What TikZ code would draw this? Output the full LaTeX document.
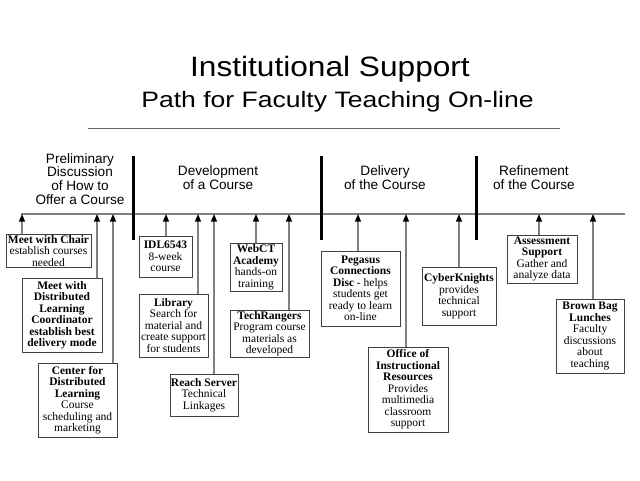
\documentclass[tikz,border=0pt]{standalone}
\usepackage{graphicx}
\usepackage{fontspec}
\setmainfont{Liberation Serif}
\newfontfamily\arialf{Liberation Sans}
\usetikzlibrary{arrows.meta}
\begin{document}
\begin{tikzpicture}[x=1pt,y=-1pt,
  box/.style={draw=black!75, line width=0.8pt, fill=white, inner sep=1pt, align=center,
    font=\fontsize{11.5}{11.5}\selectfont},
  conn/.style={draw=black!50, line width=1.2pt,
    -{Triangle[length=7.5pt,width=6pt,color=black]}},
  heading/.style={anchor=north, inner sep=0pt, align=center,
    font=\arialf\fontsize{13.6}{13.9}\selectfont},
  divider/.style={line width=3pt, black},
  rulestyle/.style={draw=black!60, line width=0.9pt},
  timeline/.style={draw=black!50, line width=1.3pt}]
\path[use as bounding box, fill=white] (0,0) rectangle (640,480);

% titles
\node[anchor=base, inner sep=0pt] (title) at (330,76.7)
  {\arialf\fontsize{28}{28}\selectfont\scalebox{1.13}[1]{Institutional Support}};
\node[anchor=base, inner sep=0pt] (subtitle) at (337.5,107.7)
  {\arialf\fontsize{22.3}{22.3}\selectfont\scalebox{1.19}[1]{Path for Faculty Teaching On-line}};
\draw[rulestyle] (88,128) -- (560,128);

% headings
\node[heading] (hpre) at (80,153) {Preliminary\\Discussion\\of How to\\Offer a Course};
\node[heading] (hdev) at (218,165.3) {Development\\of a Course};
\node[heading] (hdel) at (385,165.3) {Delivery\\of the Course};
\node[heading] (href) at (534,165.3) {Refinement\\of the Course};

% timeline and dividers
\coordinate (tl0) at (21,214);
\coordinate (tl1) at (625,214);
\draw[timeline] (tl0) -- (tl1);
\draw[divider] (133,156) -- (133,240);
\draw[divider] (321,156) -- (321,240);
\draw[divider] (476,156) -- (476,240);

% boxes
\node[box, minimum width=85pt, minimum height=32pt] (chair) at (48.5,251)
  {\textbf{Meet with Chair}\\establish courses\\needed};
\node[box, minimum width=80pt, minimum height=74pt] (dlc) at (62,315)
  {\textbf{Meet with}\\\textbf{Distributed}\\\textbf{Learning}\\\textbf{Coordinator}\\\textbf{establish best}\\\textbf{delivery mode}};
\node[box, minimum width=79pt, minimum height=74pt] (cdl) at (77.5,400)
  {\textbf{Center for}\\\textbf{Distributed}\\\textbf{Learning}\\Course\\scheduling and\\marketing};
\node[box, minimum width=53pt, minimum height=41pt] (idl) at (165.5,256.5)
  {\textbf{IDL6543}\\8-week\\course};
\node[box, minimum width=69pt, minimum height=63pt] (lib) at (173.5,325.5)
  {\textbf{Library}\\Search for\\material and\\create support\\for students};
\node[box, minimum width=66pt, minimum height=42pt] (reach) at (204,395)
  {\textbf{Reach Server}\\Technical\\Linkages};
\node[box, minimum width=52pt, minimum height=48pt] (webct) at (256,267)
  {\textbf{WebCT}\\\textbf{Academy}\\hands-on\\training};
\node[box, minimum width=79pt, minimum height=47pt] (tech) at (269.5,333.5)
  {\textbf{TechRangers}\\Program course\\materials as\\developed};
\node[box, minimum width=79pt, minimum height=75pt] (peg) at (360.5,288.5)
  {\textbf{Pegasus}\\\textbf{Connections}\\\textbf{Disc} - helps\\students get\\ready to learn\\on-line};
\node[box, minimum width=80pt, minimum height=85pt] (oir) at (408,389.5)
  {\textbf{Office of}\\\textbf{Instructional}\\\textbf{Resources}\\Provides\\multimedia\\classroom\\support};
\node[box, minimum width=74pt, minimum height=58pt] (cyber) at (459,296)
  {\textbf{CyberKnights}\\provides\\technical\\support};
\node[box, minimum width=70pt, minimum height=48pt] (assess) at (542,259)
  {\textbf{Assessment}\\\textbf{Support}\\Gather and\\analyze data};
\node[box, minimum width=68pt, minimum height=74pt] (brown) at (590,336)
  {\textbf{Brown Bag}\\\textbf{Lunches}\\Faculty\\discussions\\about\\teaching};

% arrow targets on the timeline
\coordinate (a1) at (22,214);
\coordinate (a2) at (97,214);
\coordinate (a3) at (113,214);
\coordinate (a4) at (166,214);
\coordinate (a5) at (198,214);
\coordinate (a6) at (214,214);
\coordinate (a7) at (256,214);
\coordinate (a8) at (289,214);
\coordinate (a9) at (358,214);
\coordinate (a10) at (406,214);
\coordinate (a11) at (459,214);
\coordinate (a12) at (539,214);
\coordinate (a13) at (593,214);

\draw[conn] (chair.north -| a1) -- (a1);
\draw[conn] (dlc.north -| a2) -- (a2);
\draw[conn] (cdl.north -| a3) -- (a3);
\draw[conn] (idl.north -| a4) -- (a4);
\draw[conn] (lib.north -| a5) -- (a5);
\draw[conn] (reach.north -| a6) -- (a6);
\draw[conn] (webct.north -| a7) -- (a7);
\draw[conn] (tech.north -| a8) -- (a8);
\draw[conn] (peg.north -| a9) -- (a9);
\draw[conn] (oir.north -| a10) -- (a10);
\draw[conn] (cyber.north -| a11) -- (a11);
\draw[conn] (assess.north -| a12) -- (a12);
\draw[conn] (brown.north -| a13) -- (a13);
\end{tikzpicture}
\end{document}
